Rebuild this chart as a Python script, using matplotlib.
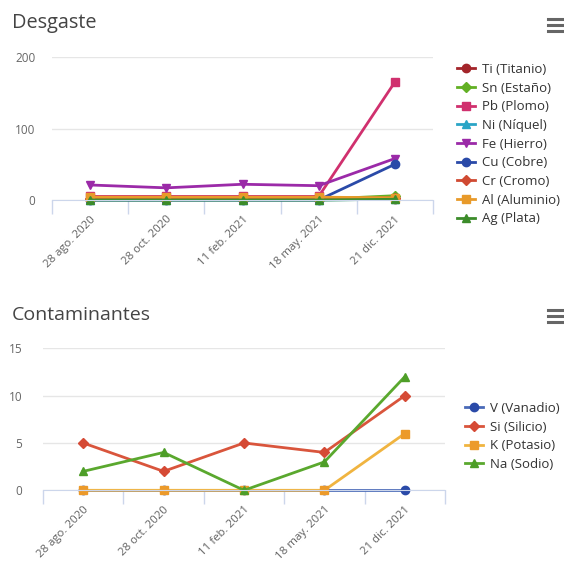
import matplotlib
matplotlib.use("Agg")
import matplotlib.pyplot as plt
from matplotlib.lines import Line2D

plt.rcParams['font.family'] = ['Open Sans', 'DejaVu Sans']

dates = ["28 ago. 2020", "28 oct. 2020", "11 feb. 2021", "18 may. 2021", "21 dic. 2021"]

# Desgaste series
wear_names = ["Ti (Titanio)", "Sn (Estaño)", "Pb (Plomo)", "Ni (Níquel)", "Fe (Hierro)",
              "Cu (Cobre)", "Cr (Cromo)", "Al (Aluminio)", "Ag (Plata)"]
ti = [1, 1, 1, 1, 2]
sn = [1, 1, 1, 1, 6]
pb = [5, 5, 5, 5, 165]
ni = [0, 0, 0, 0, 1]
fe = [21, 17, 22, 20, 58]
cu = [0, 0, 0, 0, 50]
cr = [2, 2, 2, 2, 3]
al = [4, 4, 4, 4, 3]
ag = [0, 0, 0, 0, 1]
wear_values = [ti, sn, pb, ni, fe, cu, cr, al, ag]
wear_colors = ["#a3252a", "#62b024", "#d0306e", "#2aa5c6", "#9b2aa8",
               "#2a4aa8", "#d04a32", "#e89a2a", "#3c8c2a"]
wear_markers = ["o", "D", "s", "^", "v", "o", "D", "s", "^"]
wear_ticks = [0, 100, 200]

# Contaminantes series
cont_names = ["V (Vanadio)", "Si (Silicio)", "K (Potasio)", "Na (Sodio)"]
v = [0, 0, 0, 0, 0]
si = [5, 2, 5, 4, 10]
k = [0, 0, 0, 0, 6]
na = [2, 4, 0, 3, 12]
cont_values = [v, si, k, na]
cont_colors = ["#2a4aa8", "#d54a35", "#ec9a2a", "#4e9e28"]
cont_line_colors = ["#4a6ab8", "#d9553c", "#f0b440", "#5aa82e"]
cont_markers = ["o", "D", "s", "^"]
cont_ticks = [0, 5, 10, 15]

W, H = 564, 563
fig = plt.figure(figsize=(W / 100, H / 100), dpi=100)
fig.patch.set_facecolor("white")


def px_axes(x0, x1, ytop, ybot):
    return fig.add_axes([x0 / W, 1 - ybot / H, (x1 - x0) / W, (ybot - ytop) / H])


def msize(m):
    return {"o": 6, "s": 6, "D": 5, "^": 6.3, "v": 6.3}[m]


def style(ax, ymax, yticks, ypad):
    ax.set_xlim(-0.5, 4.5)
    ax.set_ylim(0, ymax)
    for s in ["top", "right", "left"]:
        ax.spines[s].set_visible(False)
    ax.spines["bottom"].set_color("#ccd6eb")
    ax.set_yticks(yticks)
    ax.yaxis.grid(True, color="#e6e6e6", lw=1)
    ax.set_axisbelow(True)
    ax.tick_params(axis="y", length=0, pad=ypad, labelsize=8.5, labelcolor="#666666")
    ax.set_xticks(range(len(dates)))
    ax.set_xticklabels(dates, rotation=45, ha="right", rotation_mode="anchor",
                       fontsize=8.2, color="#606060")
    ax.tick_params(axis="x", which="major", length=0, pad=10)
    ax.set_xticks([i - 0.5 for i in range(len(dates) + 1)], minor=True)
    ax.tick_params(axis="x", which="minor", length=10, color="#ccd6eb", width=1)


def hamburger(ycenter):
    for dy in (-6, 0, 6):
        y = 1 - (ycenter + dy) / H
        fig.add_artist(Line2D([548 / W, 562 / W], [y, y], color="#666666", lw=2.2))


# Top chart
ax1 = px_axes(52, 433, 57, 200)
style(ax1, 200, wear_ticks, 12)
handles = []
for name, vals, c, m in zip(wear_names, wear_values, wear_colors, wear_markers):
    ax1.plot(range(len(dates)), vals, color=c, lw=2, marker=m, markersize=msize(m),
             clip_on=False, label=name)
    handles.append(Line2D([], [], color=c, lw=2, marker=m, markersize=msize(m)))
fig.text(12 / W, 1 - 28 / H, "Desgaste", fontsize=14.3, color="#444444", va="baseline")
hamburger(25)
fig.legend(handles, wear_names, loc="upper left", bbox_to_anchor=(457 / W, 1 - 63 / H),
           frameon=False, fontsize=9.5, labelcolor="#333333", handlelength=1.4,
           handletextpad=0.5, labelspacing=0.43, borderpad=0, borderaxespad=0)

# Bottom chart
ax2 = px_axes(43, 445, 348.3, 490.3)
style(ax2, 15, cont_ticks, 15)
handles2 = []
for name, vals, c, lc, m in zip(cont_names, cont_values, cont_colors, cont_line_colors, cont_markers):
    ax2.plot(range(len(dates)), vals, color=lc, lw=2, marker=m, markersize=msize(m),
             markerfacecolor=c, markeredgecolor=c, clip_on=False, label=name)
    handles2.append(Line2D([], [], color=lc, lw=2, marker=m, markersize=msize(m),
                           markerfacecolor=c, markeredgecolor=c))
fig.text(12 / W, 1 - 320 / H, "Contaminantes", fontsize=14, color="#444444", va="baseline")
hamburger(316)
fig.legend(handles2, cont_names, loc="upper left", bbox_to_anchor=(465 / W, 1 - 402 / H),
           frameon=False, fontsize=9.5, labelcolor="#333333", handlelength=1.4,
           handletextpad=0.5, labelspacing=0.43, borderpad=0, borderaxespad=0)

fig.savefig("out.png", dpi=100, facecolor="white")
